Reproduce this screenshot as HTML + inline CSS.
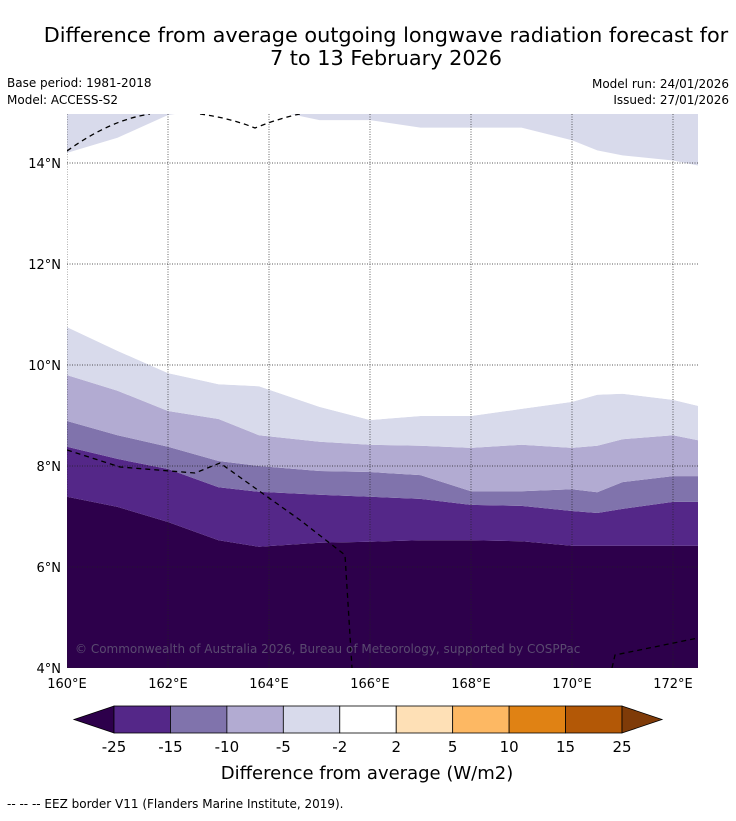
<!DOCTYPE html>
<html><head><meta charset="utf-8"><style>
body{margin:0;background:#fff;font-family:"Liberation Sans","DejaVu Sans",sans-serif;}
svg text{font-family:"DejaVu Sans","Liberation Sans",sans-serif;}
</style></head><body>
<svg id="s" width="736" height="816" xmlns="http://www.w3.org/2000/svg">
<text x="386" y="42" font-size="20.8" text-anchor="middle">Difference from average outgoing longwave radiation forecast for</text>
<text x="386" y="65" font-size="20.8" text-anchor="middle">7 to 13 February 2026</text>
<text x="7" y="87" font-size="12">Base period: 1981-2018</text>
<text x="7" y="104" font-size="12">Model: ACCESS-S2</text>
<text x="729" y="88" font-size="12" text-anchor="end">Model run: 24/01/2026</text>
<text x="729" y="104" font-size="12" text-anchor="end">Issued: 27/01/2026</text>
<g id="map"></g>
<g id="cbar"></g>
<text x="367" y="779" font-size="18" text-anchor="middle">Difference from average (W/m2)</text>
<text x="7" y="808" font-size="12">--  --  -- EEZ border V11 (Flanders Marine Institute, 2019).</text>
</svg>
<script>
const lons=[160,161,162,163,163.8,165,166,167,168,169,170,170.5,171,172,172.5];
// boundary latitudes (lower edge of each band) per longitude
const b25=[7.39,7.19,6.89,6.53,6.40,6.48,6.50,6.53,6.53,6.51,6.42,6.42,6.42,6.42,6.42];
const b15=[8.38,8.14,7.94,7.58,7.49,7.43,7.39,7.35,7.23,7.21,7.11,7.07,7.15,7.29,7.29];
const b10=[8.89,8.61,8.38,8.10,8.00,7.90,7.88,7.82,7.50,7.50,7.54,7.48,7.68,7.80,7.80];
const b5=[9.80,9.49,9.09,8.93,8.61,8.48,8.42,8.40,8.36,8.42,8.36,8.40,8.53,8.61,8.51];
const b2=[10.75,10.28,9.84,9.62,9.58,9.17,8.91,8.99,8.99,9.13,9.27,9.41,9.43,9.31,9.19];
const btop=[14.2,14.5,14.95,15.1,15.1,14.85,14.85,14.7,14.7,14.7,14.45,14.25,14.15,14.05,13.95];
const cbLabels=["-25","-15","-10","-5","-2","2","5","10","15","25"];
const cbColors=["#542788","#8073ac","#b2abd2","#d8daeb","#ffffff","#fee0b6","#fdb863","#e08214","#b35806"];
const xTicks=[160,162,164,166,168,170,172];
const yTicks=[4,6,8,10,12,14];
const X0=67,X1=698,Y0=114,Y1=668;
const x=lon=>X0+(lon-160)*50.5, y=lat=>668-(lat-4)*50.5;
const NS="http://www.w3.org/2000/svg";
const map=document.getElementById('map');
function el(t,a,p){const e=document.createElementNS(NS,t);for(const k in a)e.setAttribute(k,a[k]);(p||map).appendChild(e);return e;}
const cp=el('clipPath',{id:'cp'});
el('rect',{x:X0,y:Y0,width:X1-X0,height:Y1-Y0},cp);
const g=el('g',{'clip-path':'url(#cp)'});
function band(lo,hi,col,name){
  let d='';
  lons.forEach((l,i)=>{d+=(i?'L':'M')+x(l)+','+(hi?y(hi[i]):Y0-5)+' ';});
  for(let i=lons.length-1;i>=0;i--)d+='L'+x(lons[i])+','+(lo?y(lo[i]):Y1+5)+' ';
  const p=el('path',{d:d+'Z',fill:col},g);
  
  
}
band(null,b25,'#2d004b','band-below-25');
band(b25,b15,'#542788','band-25-15');
band(b15,b10,'#8073ac','band-15-10');
band(b10,b5,'#b2abd2','band-10-5');
band(b5,b2,'#d8daeb','band-5-2');
band(b2,btop,'#ffffff','band-2-2');
band(btop,null,'#d8daeb','band-top-5-2');
xTicks.forEach(t=>{el('line',{x1:x(t),x2:x(t),y1:Y0,y2:Y1,stroke:'#222','stroke-width':0.7,'stroke-dasharray':'1,1.5'},g);
 const tx=el('text',{x:x(t),y:Y1+20,'font-size':13,'text-anchor':'middle'});tx.textContent=t+'°E';
 
 });
yTicks.forEach(t=>{el('line',{x1:X0,x2:X1,y1:y(t),y2:y(t),stroke:'#222','stroke-width':0.7,'stroke-dasharray':'1,1.5'},g);
 const tx=el('text',{x:X0-6,y:y(t)+5,'font-size':13,'text-anchor':'end'});tx.textContent=t+'°N';
 
 });
const e1=el('path',{d:'M67,151 Q110,120 150,114 M200,114 Q230,118 255,128 Q280,118 300,114 M67,450 L120,467 L195,473 L220,463 L255,488 L300,520 L345,555 L352,668 M612,668 L615,655 L698,638',fill:'none',stroke:'#000','stroke-width':1.3,'stroke-dasharray':'5,4'},g);


const cr=el('text',{x:75,y:653,'font-size':12,fill:'#5a4a70'},g);cr.textContent='© Commonwealth of Australia 2026, Bureau of Meteorology, supported by COSPPac';


const cb=document.getElementById('cbar');
const cx0=114,cw=(622-114)/9,cy=706,ch=27;
el('polygon',{points:`${cx0},${cy} ${cx0},${cy+ch} 74,${cy+ch/2}`,fill:'#2d004b',stroke:'#000','stroke-width':0.8},cb);
cbColors.forEach((c,i)=>{const r=el('rect',{x:cx0+i*cw,y:cy,width:cw,height:ch,fill:c,stroke:'#000','stroke-width':0.8},cb);
 
 });
const xe=cx0+cbColors.length*cw;
el('polygon',{points:`${xe},${cy} ${xe},${cy+ch} 662,${cy+ch/2}`,fill:'#7f3b08',stroke:'#000','stroke-width':0.8},cb);
cbLabels.forEach((t,i)=>{const tx=el('text',{x:cx0+i*cw,y:752,'font-size':15,'text-anchor':'middle'},cb);
 tx.textContent=t;
 
 });
</script>
</body></html>
